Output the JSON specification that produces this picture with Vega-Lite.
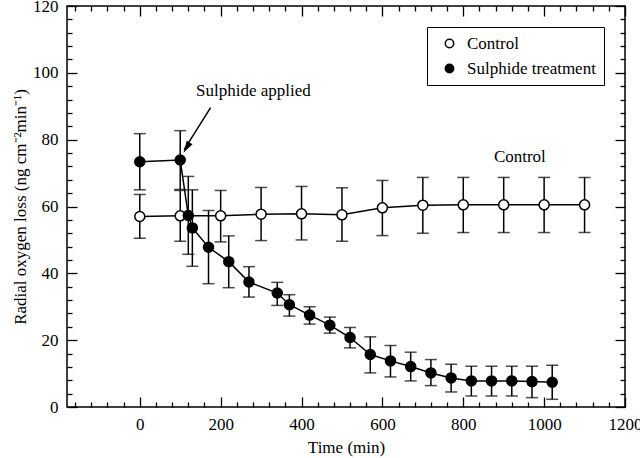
{
  "$schema": "https://vega.github.io/schema/vega-lite/v6.json",
  "width": 558,
  "height": 401,
  "autosize": "none",
  "padding": {"left": 67, "top": 6, "right": 15, "bottom": 51},
  "background": "white",
  "datasets": {
    "obs": [
      {"series": "Control", "t": 0, "v": 57.0, "lo": 50.5, "hi": 63.6},
      {"series": "Control", "t": 100, "v": 57.2, "lo": 49.6, "hi": 64.8},
      {"series": "Control", "t": 200, "v": 57.2, "lo": 49.4, "hi": 64.8},
      {"series": "Control", "t": 300, "v": 57.7, "lo": 49.8, "hi": 65.7},
      {"series": "Control", "t": 400, "v": 57.8, "lo": 50.0, "hi": 66.0},
      {"series": "Control", "t": 500, "v": 57.5, "lo": 49.6, "hi": 65.6},
      {"series": "Control", "t": 600, "v": 59.6, "lo": 51.3, "hi": 67.8},
      {"series": "Control", "t": 700, "v": 60.4, "lo": 52.0, "hi": 68.7},
      {"series": "Control", "t": 800, "v": 60.5, "lo": 52.2, "hi": 68.7},
      {"series": "Control", "t": 900, "v": 60.5, "lo": 52.2, "hi": 68.7},
      {"series": "Control", "t": 1000, "v": 60.5, "lo": 52.2, "hi": 68.7},
      {"series": "Control", "t": 1100, "v": 60.5, "lo": 52.2, "hi": 68.7},
      {"series": "Sulphide treatment", "t": 0, "v": 73.4, "lo": 65.0, "hi": 81.8},
      {"series": "Sulphide treatment", "t": 100, "v": 73.9, "lo": 65.1, "hi": 82.7},
      {"series": "Sulphide treatment", "t": 120, "v": 57.3, "lo": 45.7, "hi": 69.0},
      {"series": "Sulphide treatment", "t": 130, "v": 53.6, "lo": 42.1, "hi": 65.0},
      {"series": "Sulphide treatment", "t": 170, "v": 47.8, "lo": 36.9, "hi": 58.8},
      {"series": "Sulphide treatment", "t": 220, "v": 43.5, "lo": 35.7, "hi": 51.2},
      {"series": "Sulphide treatment", "t": 270, "v": 37.4, "lo": 32.9, "hi": 42.0},
      {"series": "Sulphide treatment", "t": 340, "v": 34.1, "lo": 30.4, "hi": 37.3},
      {"series": "Sulphide treatment", "t": 370, "v": 30.6, "lo": 27.2, "hi": 33.6},
      {"series": "Sulphide treatment", "t": 420, "v": 27.5, "lo": 24.8, "hi": 30.0},
      {"series": "Sulphide treatment", "t": 470, "v": 24.5, "lo": 22.1, "hi": 26.9},
      {"series": "Sulphide treatment", "t": 520, "v": 20.8, "lo": 17.7, "hi": 23.8},
      {"series": "Sulphide treatment", "t": 570, "v": 15.7, "lo": 10.2, "hi": 21.0},
      {"series": "Sulphide treatment", "t": 620, "v": 13.8, "lo": 9.0, "hi": 18.4},
      {"series": "Sulphide treatment", "t": 670, "v": 12.1, "lo": 7.8, "hi": 16.4},
      {"series": "Sulphide treatment", "t": 720, "v": 10.2, "lo": 6.4, "hi": 14.2},
      {"series": "Sulphide treatment", "t": 770, "v": 8.7, "lo": 4.5, "hi": 12.8},
      {"series": "Sulphide treatment", "t": 820, "v": 7.8, "lo": 3.3, "hi": 12.2},
      {"series": "Sulphide treatment", "t": 870, "v": 7.8, "lo": 3.3, "hi": 12.2},
      {"series": "Sulphide treatment", "t": 920, "v": 7.8, "lo": 3.3, "hi": 12.2},
      {"series": "Sulphide treatment", "t": 970, "v": 7.6, "lo": 2.8, "hi": 12.2},
      {"series": "Sulphide treatment", "t": 1020, "v": 7.4, "lo": 2.3, "hi": 12.5}
    ],
    "notes": [
      {"label": "Sulphide applied", "t": 281, "v": 94.6},
      {"label": "Control", "t": 940, "v": 74.9}
    ],
    "arrow": [
      {"t": 175, "v": 89.6, "t2": 110, "v2": 77.0, "tipT": 108, "tipV": 76.1}
    ]
  },
  "layer": [
    {
      "data": {"name": "obs"},
      "mark": {"type": "rule", "color": "black", "strokeWidth": 1.5},
      "encoding": {
        "x": {
          "field": "t", "type": "quantitative",
          "scale": {"domain": [-180, 1200], "nice": false, "zero": false},
          "axis": {
            "orient": "bottom",
            "title": "Time (min)",
            "values": [-160,-120,-80,-40,0,40,80,120,160,200,240,280,320,360,400,440,480,520,560,600,640,680,720,760,800,840,880,920,960,1000,1040,1080,1120,1160,1200],
            "labelExpr": "datum.value % 200 === 0 && datum.value >= 0 ? format(datum.value, 'd') : ''",
            "tickSize": {"condition": {"test": "datum.value % 200 === 0", "value": -10}, "value": -5},
            "labelPadding": 19,
            "titlePadding": 2
          }
        },
        "y": {
          "field": "lo", "type": "quantitative",
          "scale": {"domain": [0, 120], "nice": false},
          "axis": {
            "orient": "left",
            "title": "Radial oxygen loss (ng cm⁻²min⁻¹)",
            "values": [0,4,8,12,16,20,24,28,32,36,40,44,48,52,56,60,64,68,72,76,80,84,88,92,96,100,104,108,112,116,120],
            "labelExpr": "datum.value % 20 === 0 ? format(datum.value, 'd') : ''",
            "tickSize": {"condition": {"test": "datum.value % 20 === 0", "value": -10}, "value": -5},
            "labelPadding": 19,
            "titlePadding": 3
          }
        },
        "y2": {"field": "hi"}
      }
    },
    {
      "data": {"name": "obs"},
      "mark": {"type": "tick", "orient": "horizontal", "color": "black", "size": 12, "thickness": 1.5},
      "encoding": {
        "x": {
          "field": "t", "type": "quantitative",
          "axis": {
            "orient": "top",
            "title": null,
            "labels": false,
            "values": [-160,-120,-80,-40,0,40,80,120,160,200,240,280,320,360,400,440,480,520,560,600,640,680,720,760,800,840,880,920,960,1000,1040,1080,1120,1160,1200],
            "tickSize": {"condition": {"test": "datum.value % 200 === 0", "value": -10}, "value": -5}
          }
        },
        "y": {
          "field": "lo", "type": "quantitative",
          "axis": {
            "orient": "right",
            "title": null,
            "labels": false,
            "values": [0,4,8,12,16,20,24,28,32,36,40,44,48,52,56,60,64,68,72,76,80,84,88,92,96,100,104,108,112,116,120],
            "tickSize": {"condition": {"test": "datum.value % 20 === 0", "value": -10}, "value": -5}
          }
        }
      }
    },
    {
      "data": {"name": "obs"},
      "mark": {"type": "tick", "orient": "horizontal", "color": "black", "size": 12, "thickness": 1.5},
      "encoding": {
        "x": {"field": "t", "type": "quantitative", "axis": null},
        "y": {"field": "hi", "type": "quantitative", "axis": null}
      }
    },
    {
      "data": {"name": "obs"},
      "mark": {"type": "line", "color": "black", "strokeWidth": 1.5},
      "encoding": {
        "x": {"field": "t", "type": "quantitative", "axis": null},
        "y": {"field": "v", "type": "quantitative", "axis": null},
        "detail": {"field": "series"},
        "order": {"field": "t", "type": "quantitative"}
      }
    },
    {
      "data": {"name": "obs"},
      "mark": {"type": "point", "shape": "circle", "filled": true, "stroke": "black", "strokeWidth": 1.5, "size": 100, "opacity": 1},
      "encoding": {
        "x": {"field": "t", "type": "quantitative", "axis": null},
        "y": {"field": "v", "type": "quantitative", "axis": null},
        "fill": {
          "field": "series", "type": "nominal",
          "scale": {"domain": ["Control", "Sulphide treatment"], "range": ["white", "black"]},
          "legend": {
            "title": null,
            "orient": "none",
            "legendX": 360,
            "legendY": 21,
            "strokeColor": "black",
            "fillColor": "white",
            "padding": 8,
            "rowPadding": 7,
            "symbolOffset": 6,
            "labelOffset": 9,
            "symbolType": "circle",
            "symbolSize": 70,
            "symbolStrokeColor": "black",
            "symbolStrokeWidth": 1.5,
            "labelFont": "Liberation Serif",
            "labelFontSize": 17,
            "labelColor": "black",
            "labelLimit": 300
          }
        }
      }
    },
    {
      "data": {"name": "notes"},
      "mark": {"type": "text", "font": "Liberation Serif", "fontSize": 17, "color": "black", "align": "center", "baseline": "middle"},
      "encoding": {
        "x": {"field": "t", "type": "quantitative", "axis": null},
        "y": {"field": "v", "type": "quantitative", "axis": null},
        "text": {"field": "label"}
      }
    },
    {
      "data": {"name": "arrow"},
      "mark": {"type": "rule", "color": "black", "strokeWidth": 1.5},
      "encoding": {
        "x": {"field": "t", "type": "quantitative", "axis": null},
        "y": {"field": "v", "type": "quantitative", "axis": null},
        "x2": {"field": "t2"},
        "y2": {"field": "v2"}
      }
    },
    {
      "data": {"name": "arrow"},
      "mark": {"type": "point", "shape": "M0,0L-0.28,1L0.28,1Z", "filled": true, "color": "black", "size": 576, "angle": 211, "opacity": 1},
      "encoding": {
        "x": {"field": "tipT", "type": "quantitative", "axis": null},
        "y": {"field": "tipV", "type": "quantitative", "axis": null}
      }
    }
  ],
  "resolve": {"axis": {"x": "independent", "y": "independent"}},
  "config": {
    "view": {"stroke": "black", "strokeWidth": 1.5},
    "axis": {
      "domain": false,
      "grid": false,
      "ticks": true,
      "tickColor": "black",
      "tickWidth": 1.3,
      "labelColor": "black",
      "labelFont": "Liberation Serif",
      "labelFontSize": 17,
      "labelOverlap": false,
      "labelFlush": false,
      "titleFont": "Liberation Serif",
      "titleFontSize": 17,
      "titleFontWeight": "normal",
      "titleColor": "black"
    }
  }
}
